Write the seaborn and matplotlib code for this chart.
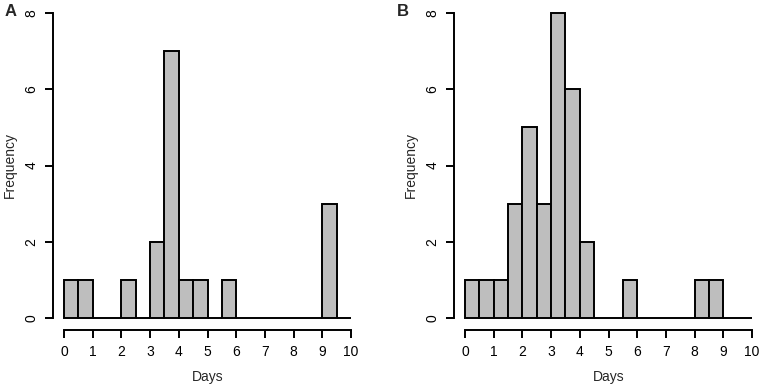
import numpy as np
import pandas as pd
import matplotlib
matplotlib.use("Agg")
import matplotlib.pyplot as plt
import seaborn as sns

# histogram bins (days) and counts
bin_edges = [0, 0.5, 1, 1.5, 2, 2.5, 3, 3.5, 4, 4.5, 5,
             5.5, 6, 6.5, 7, 7.5, 8, 8.5, 9, 9.5, 10]
freq_a = [1, 1, 0, 0, 1, 0, 2, 7, 1, 1, 0, 1, 0, 0, 0, 0, 0, 0, 3, 0]
freq_b = [1, 1, 1, 3, 5, 3, 8, 6, 2, 0, 0, 1, 0, 0, 0, 0, 1, 1, 0, 0]
panel_labels = ["A", "B"]
x_ticks = [0, 1, 2, 3, 4, 5, 6, 7, 8, 9, 10]
y_ticks = [0, 2, 4, 6, 8]

sns.set_style("ticks")
plt.rcParams['font.family'] = ['Liberation Sans', 'DejaVu Sans']

W, H = 762, 388
LW = 1.4
FS = 10
fig = plt.figure(figsize=(W / 100, H / 100), dpi=100)

mids = (np.array(bin_edges[:-1]) + np.array(bin_edges[1:])) / 2
panels = [(freq_a, 64, 11), (freq_b, 465, 403)]

for (counts, left_px, letter_px), letter in zip(panels, panel_labels):
    ax = fig.add_axes([left_px / W, 70 / H, 287 / W, 305 / H])
    df = pd.DataFrame({"Days": mids, "n": counts})
    sns.histplot(data=df, x="Days", weights="n", bins=bin_edges, ax=ax,
                 color="#BEBEBE", alpha=1, edgecolor="black", linewidth=LW)
    for p in ax.patches:
        p.set_clip_on(False)

    ax.set_xlim(0, 10)
    ax.set_ylim(0, 8)

    # R-style detached axes (set_position resets the ticks, so do it first)
    sns.despine(ax=ax)
    ax.spines['left'].set_position(('outward', 11 * 0.72))
    ax.spines['bottom'].set_position(('outward', 12 * 0.72))
    ax.spines['left'].set_bounds(0, 8)
    ax.spines['bottom'].set_bounds(0, 10)
    for s in ['left', 'bottom']:
        ax.spines[s].set_linewidth(LW)
        ax.spines[s].set_color("black")

    ax.set_xticks(x_ticks)
    ax.set_yticks(y_ticks)
    ax.set_xticklabels([str(t) for t in x_ticks])
    ax.set_yticklabels([str(t) for t in y_ticks], va="center")
    ax.tick_params(axis='both', length=5.5, width=LW, color="black",
                   labelcolor="black", labelsize=FS)
    ax.tick_params(axis='x', pad=5)
    ax.tick_params(axis='y', pad=5, labelrotation=90)

    ax.set_xlabel("Days", fontsize=FS, va="center")
    ax.xaxis.set_label_coords(0.5, -0.193)
    ax.set_ylabel("Frequency", fontsize=FS, va="center")
    ax.yaxis.set_label_coords(-0.19, 0.5)

    fig.text(letter_px / W, 1 - 11 / H, letter, ha="center", va="center",
             fontsize=12, fontweight="bold")

fig.savefig("out.png", dpi=100)
